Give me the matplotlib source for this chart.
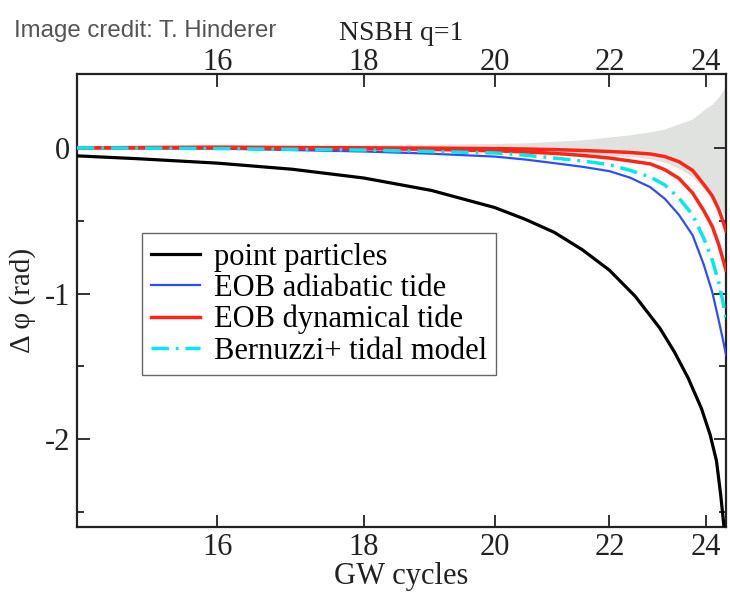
import numpy as np
import matplotlib
matplotlib.use("Agg")
import matplotlib.pyplot as plt
from matplotlib.ticker import FixedLocator

plt.rcParams['font.family'] = ['Liberation Serif', 'DejaVu Serif']
plt.rcParams['axes.unicode_minus'] = False

# GW cycles grid for the point-particle curve
n_pp = [14.24, 15, 16, 17, 18, 19, 20, 20.5, 21, 21.5, 22, 22.5, 23, 23.3, 23.6,
        23.9, 24.1, 24.25, 24.35, 24.43]
dphi_pp = [-0.055, -0.075, -0.105, -0.147, -0.207, -0.292, -0.41, -0.49, -0.58,
           -0.70, -0.84, -1.02, -1.24, -1.40, -1.58, -1.79, -1.97, -2.15, -2.38, -2.60]

# GW cycles grid for the tidal models and the error band
n_tide = [14.24, 16, 18, 19, 20, 20.5, 21, 21.5, 22, 22.4, 22.8, 23.1, 23.4, 23.7,
          23.95, 24.15, 24.3, 24.4, 24.48]
dphi_dyn_a = [0.0, 0.005, 0.0, -0.002, -0.005, -0.008, -0.012, -0.018, -0.025, -0.032,
              -0.042, -0.06, -0.095, -0.155, -0.25, -0.33, -0.42, -0.50, -0.57]
dphi_dyn_b = [0.0, 0.0, -0.005, -0.01, -0.02, -0.028, -0.038, -0.052, -0.07, -0.09,
              -0.11, -0.15, -0.21, -0.31, -0.43, -0.54, -0.66, -0.76, -0.84]
dphi_bern = [0.0, -0.005, -0.015, -0.025, -0.035, -0.05, -0.07, -0.09, -0.115, -0.155,
             -0.20, -0.255, -0.345, -0.46, -0.62, -0.77, -0.92, -1.05, -1.17]
dphi_adia = [0.0, -0.005, -0.025, -0.04, -0.06, -0.08, -0.105, -0.13, -0.16, -0.205,
             -0.27, -0.35, -0.46, -0.60, -0.80, -0.99, -1.18, -1.31, -1.42]
band_hi = [0.005, 0.01, 0.02, 0.025, 0.03, 0.035, 0.045, 0.055, 0.075, 0.09, 0.11,
           0.13, 0.165, 0.20, 0.26, 0.30, 0.35, 0.39, 0.43]
band_lo = [-0.005, -0.01, -0.02, -0.025, -0.03, -0.035, -0.04, -0.045, -0.055, -0.06,
           -0.075, -0.10, -0.14, -0.20, -0.28, -0.33, -0.39, -0.44, -0.48]

x_ticks = [16, 18, 20, 22, 24]
y_ticks = [-2, -1, 0]
y_minor = [-2.5, -1.5, -0.5]

# axis is linear in time, labelled in cycles: t ~ -(Nc - N)^1.6
NC, P = 29.0, 1.6


def fwd(n):
    return -np.power(np.clip(NC - np.asarray(n, dtype=float), 0, None), P)


def inv(t):
    return NC - np.power(np.clip(-np.asarray(t, dtype=float), 0, None), 1.0 / P)


fig = plt.figure(figsize=(7.3, 5.94), dpi=100)
ax = fig.add_axes([77 / 730, 67 / 594, 649 / 730, 453 / 594])
ax.set_xscale('function', functions=(fwd, inv))

ax.fill_between(n_tide, band_lo, band_hi, color='#e0e2e0', lw=0, zorder=1)

ax.plot(n_pp, dphi_pp, color='black', lw=2.3, label='point particles', zorder=3)
ax.plot(n_tide, dphi_adia, color='#2f4dff', lw=1.6, label='EOB adiabatic tide', zorder=3)
ax.plot(n_tide, dphi_dyn_a, color='#ff2414', lw=2.5, label='EOB dynamical tide', zorder=3)
ax.plot(n_tide, dphi_dyn_b, color='#ff2414', lw=2.5, zorder=3)
ax.plot(n_tide, dphi_bern, color='#00e8f0', lw=2.5, ls=(0, (5, 2, 0.8, 2)),
        label='Bernuzzi+ tidal model', zorder=4)

ax.set_xlim(14.24, 24.48)
ax.set_ylim(-2.603, 0.507)

ax.xaxis.set_major_locator(FixedLocator(x_ticks))
ax.xaxis.set_minor_locator(FixedLocator([]))
ax.set_xticklabels([str(v) for v in x_ticks])
ax.yaxis.set_major_locator(FixedLocator(y_ticks))
ax.yaxis.set_minor_locator(FixedLocator(y_minor))
ax.set_yticklabels([str(v) for v in y_ticks])

ax.tick_params(which='both', direction='in', top=True, right=True, width=1.3,
               labelsize=22, colors='#222222')
ax.tick_params(axis='x', pad=4)
ax.tick_params(axis='y', pad=5)
ax.tick_params(which='major', length=9)
ax.tick_params(which='minor', length=5)
for s in ax.spines.values():
    s.set_linewidth(1.6)
    s.set_color('#222222')

# top labels sit closer to the spine than the bottom ones
for v in x_ticks:
    ax.text(v, 1 + 4 / 453, str(v), transform=ax.get_xaxis_transform(), ha='center',
            va='baseline', fontsize=22, color='#222222')

ax.set_xlabel('GW cycles', fontsize=22, labelpad=0, color='#222222')
ax.set_ylabel('Δ φ (rad)', fontsize=21, labelpad=6, color='#222222')

ax.text(0.5, 1 + 34 / 453, 'NSBH q=1', transform=ax.transAxes, ha='center',
        va='baseline', fontsize=20, color='#222222')
fig.text(14 / 730, 1 - 37 / 594, 'Image credit: T. Hinderer', ha='left', va='baseline',
         fontsize=17.3, color='#555555', family=['Liberation Sans', 'DejaVu Sans'])

leg = ax.legend(loc='upper left', bbox_to_anchor=(0.100, 0.648), borderaxespad=0,
                fontsize=22, handlelength=1.6, handletextpad=0.45, labelspacing=0.07,
                borderpad=0.3, fancybox=False, framealpha=1, edgecolor='#666666')
leg.get_frame().set_linewidth(1.0)

fig.savefig('out.png', dpi=100)
